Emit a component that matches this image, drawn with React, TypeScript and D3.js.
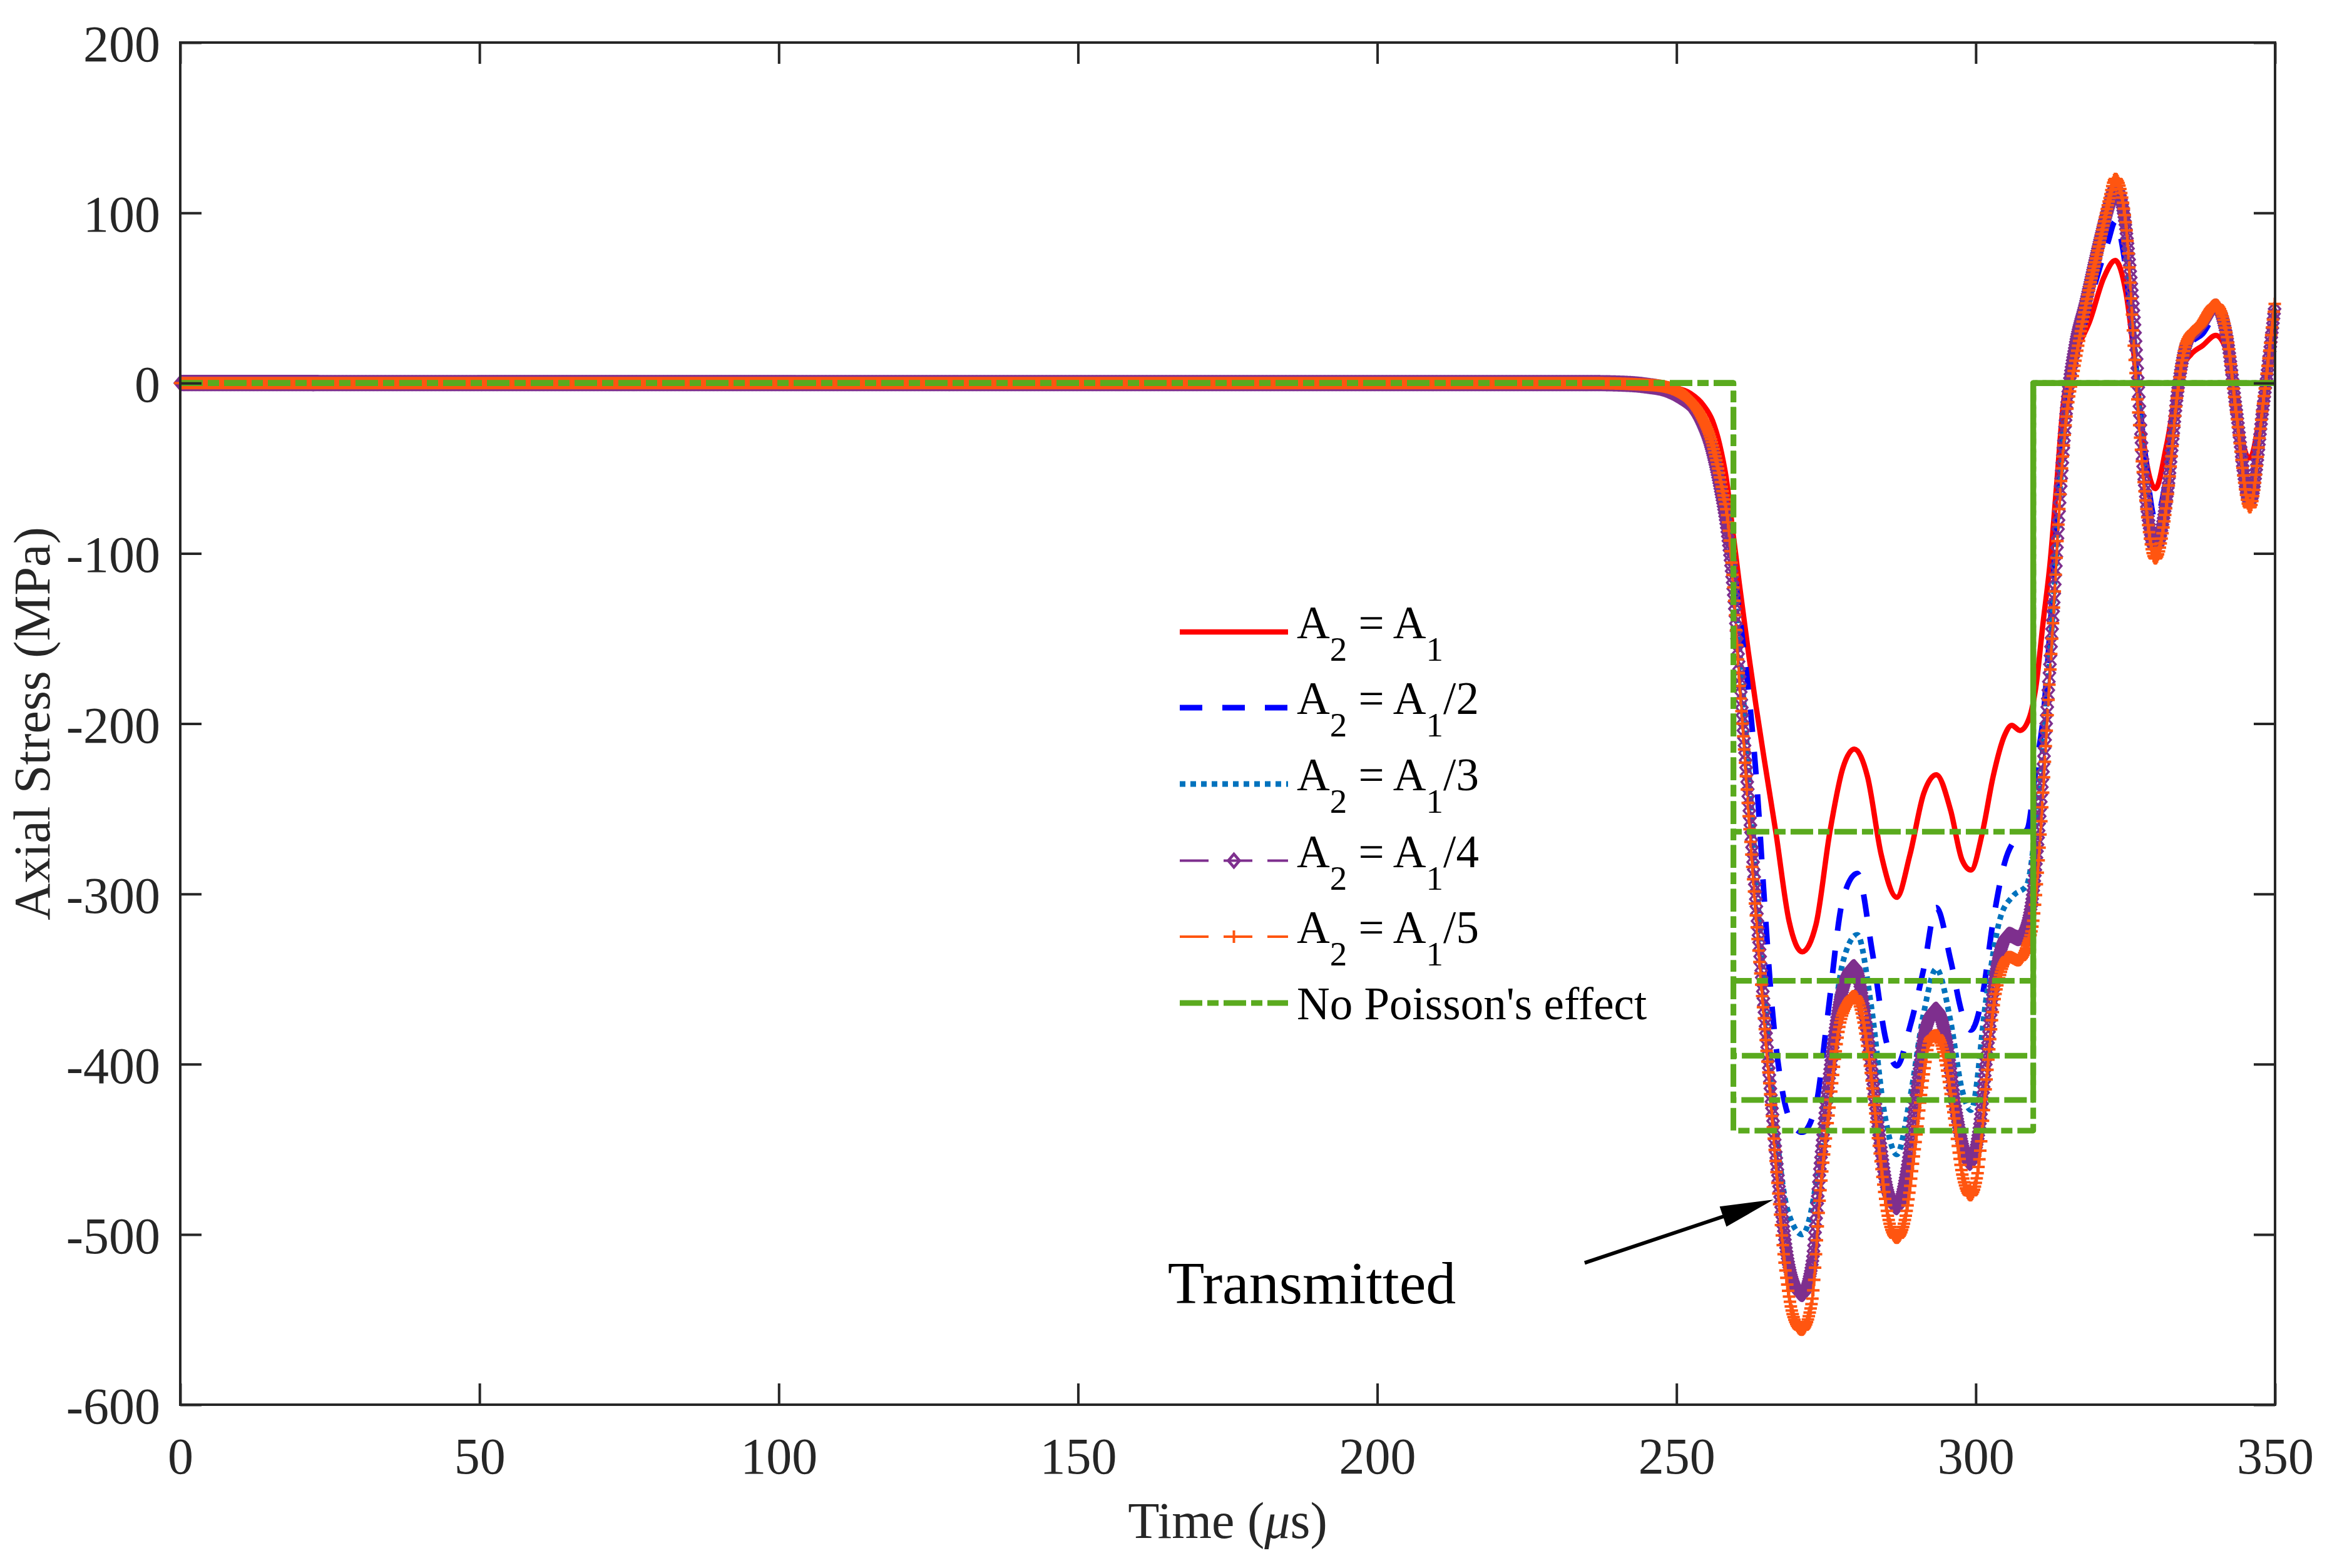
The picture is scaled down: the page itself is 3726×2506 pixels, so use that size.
import React, { useEffect, useRef } from 'react';
import * as d3 from 'd3';

// ---------- data ----------
const X_TICKS = [0, 50, 100, 150, 200, 250, 300, 350];
const Y_TICKS = [200, 100, 0, -100, -200, -300, -400, -500, -600];

// A2 = A1 (red, solid)
const seriesRatio1: [number, number][] = [
  [0, 0], [236, 0], [242, -0.3], [246, -1], [249.3, -2.5], [252.3, -6], [254.5, -13], [256, -22],
  [257.2, -36], [258.4, -58], [259.3, -84], [260.5, -118], [262, -158], [263.3, -190], [264.7, -222],
  [266.6, -264], [268.8, -316], [271, -334], [273.3, -318], [275.6, -264], [277.8, -226], [279.7, -215],
  [281.9, -231], [284.2, -277], [286.8, -302], [289, -277], [291.3, -241], [293.4, -230], [295.8, -251],
  [297.7, -280], [299.2, -286], [301.1, -264], [302.9, -231], [304.8, -207], [306, -201], [307.4, -204],
  [308.9, -197], [310.1, -177], [311.2, -142], [312.4, -106], [313.5, -60], [314.6, -13], [315.8, 10],
  [316.9, 20], [319, 36], [321.4, 62], [323.3, 72], [325.1, 53], [327, -1], [328.5, -46], [330, -62],
  [331.9, -36], [334.1, 6], [336, 17], [337.9, 22], [340.1, 28], [342, 18], [343.9, -24], [345.8, -44],
  [347.6, -17], [350, 32],
];

// A2 = A1/2 (blue, dashed)
const seriesRatio2: [number, number][] = [
  [0, 0], [236, 0], [242, -0.5], [245, -1.5], [248, -3.5], [250.5, -7], [252.5, -12], [254.3, -21],
  [255.8, -35], [257.2, -55], [258.5, -82], [259.8, -115], [261, -150], [262, -180], [263.5, -240],
  [264.6, -300], [266, -368], [267.5, -412], [269, -433], [271, -440], [273.3, -424], [275.2, -373],
  [277.8, -303], [280.2, -288], [282.7, -334], [285, -386], [286.8, -401], [289, -378], [291.3, -344],
  [293.4, -308], [295.8, -339], [297.7, -370], [299.2, -380], [301.1, -360], [302.9, -316], [304.8, -282],
  [307.1, -266], [308.6, -262], [310.1, -225], [311.3, -195], [312.3, -150], [313.5, -85], [314.6, -27],
  [316.1, 6], [317.6, 27], [319.9, 58], [322.1, 83], [323.3, 95], [324.7, 76], [326.2, 30], [328.1, -36],
  [330, -80], [331.9, -54], [333.8, -1], [335.6, 22], [337.9, 29], [340.1, 39], [342, 22], [343.9, -24],
  [345.8, -58], [347.6, -24], [350, 39],
];

// A2 = A1/3 (teal-blue, dotted)
const seriesRatio3: [number, number][] = [
  [0, 0], [236, 0], [242, -0.5], [245, -1.5], [248, -3.5], [250.5, -7.5], [252.5, -13], [254.3, -22],
  [255.8, -37], [257.2, -58], [258.5, -85], [259.6, -118], [260.6, -160], [261.6, -205], [262.8, -265],
  [264, -325], [265.5, -395], [267, -450], [268.5, -485], [271, -500], [273.3, -470], [275.5, -400],
  [277.8, -340], [280.2, -324], [282.5, -365], [284.8, -430], [286.8, -453], [289, -420], [291.3, -370],
  [293.4, -344], [295.8, -375], [297.7, -415], [299.2, -427], [301.8, -360], [304.1, -314], [306.3, -301],
  [308.5, -295], [310.1, -257], [311.2, -215], [312.2, -170], [313.3, -110], [314.5, -40], [316, 5],
  [317.5, 35], [319.9, 70], [322.1, 98], [323.3, 108], [324.7, 88], [326.4, 28], [328.1, -50], [330, -92],
  [331.9, -62], [333.8, -2], [335.5, 24], [337.9, 33], [340.1, 43], [342, 24], [343.9, -24], [345.8, -66],
  [347.6, -26], [350, 44],
];

// A2 = A1/4 (purple, dashed + diamonds)
const seriesRatio4: [number, number][] = [
  [0, 0], [236, 0], [242, -0.5], [245, -1.5], [248, -3.5], [250.3, -7.5], [252.3, -13], [254.2, -23],
  [255.8, -38], [257.2, -60], [258.5, -88], [259.5, -122], [260.4, -165], [261.3, -210], [262.4, -262],
  [263.5, -315], [264.7, -370], [266, -428], [267.3, -478], [268.6, -515], [270, -532], [271, -535],
  [272.6, -518], [274, -460], [275.6, -405], [277.5, -360], [279.7, -343], [281.8, -380], [283.8, -440],
  [285.3, -475], [286.8, -484], [288.5, -462], [290, -420], [291.6, -380], [293.4, -368], [295, -385],
  [296.8, -430], [299, -458], [300.5, -440], [301.8, -396], [303, -355], [304.1, -334], [305.6, -324],
  [307.1, -326], [308.5, -319], [309.7, -295], [310.9, -244], [312, -187], [313, -130], [314.2, -60],
  [315.3, -10], [316.6, 22], [318.4, 48], [320.6, 82], [322.3, 105], [323.3, 115], [324.7, 100],
  [326.4, 40], [328.1, -55], [330, -97], [331.9, -67], [333.8, -3], [335.3, 24], [337.5, 33], [340.1, 45],
  [342, 26], [343.5, -15], [345.8, -70], [348, -14], [350, 46],
];

// A2 = A1/5 (orange, dashed + plus)
const seriesRatio5: [number, number][] = [
  [0, 0], [236, 0], [242, -0.5], [245, -1], [247, -1.5], [250, -4.5], [252.3, -10.5], [254.2, -20],
  [256, -36], [257.5, -60], [258.7, -85], [259.5, -120], [260.3, -165], [261.2, -210], [262.2, -262],
  [263.3, -315], [264.3, -360], [265.8, -424], [267, -476], [268, -515], [269.5, -548], [270.9, -556],
  [272.6, -540], [274, -476], [275.6, -424], [277.1, -380], [278.6, -364], [279.7, -360], [280.8, -368],
  [282.3, -401], [283.8, -448], [285.3, -489], [286.8, -502], [288.3, -489], [289.8, -450], [291.3, -406],
  [292.4, -385], [293.4, -383], [294.6, -393], [296.2, -427], [297.7, -464], [299.1, -477], [300.3, -464],
  [301.8, -409], [302.9, -368], [304.1, -347], [305.6, -337], [307.1, -339], [308.5, -331], [309.7, -313],
  [310.9, -260], [312, -195], [313, -135], [314.2, -60], [315.2, -18], [316.1, 2], [317, 20], [318.4, 46],
  [320.6, 81], [322.3, 108], [323.3, 120], [325.1, 93], [326.6, 11], [328.1, -60], [330, -103],
  [331.9, -71], [333.8, -3], [335.3, 25], [337.5, 34], [340.1, 46], [342, 27], [343.5, -17], [345.8, -73],
  [348, -12], [350, 48],
];

// No Poisson's effect: rectangular pulses
const NOPOISSON_LEVELS = [-263.5, -351, -395, -421, -439];
const PULSE_START = 259.5;
const PULSE_END = 309.6;
const T_END = 350;

const LEGEND_SUFFIX = ['', '/2', '/3', '/4', '/5'];
const LEGEND_GREEN = "No Poisson's effect";
const ANNOT_TEXT = 'Transmitted';

// ---------- styling ----------
const FONT = "'Liberation Serif', 'Times New Roman', Times, serif";
const AX = '#262626';
const C_RED = '#FF0000';
const C_BLUE = '#0000FF';
const C_DOT = '#0072BD';
const C_PURPLE = '#7E2F8E';
const C_ORANGE = '#FF5510';
const C_GREEN = '#5AAA1E';

export default function App() {
  const ref = useRef<SVGSVGElement>(null);

  useEffect(() => {
    const svg = d3.select(ref.current);
    svg.selectAll('*').remove();

    const L = 288, R = 3635, T = 68, B = 2245;
    const x = d3.scaleLinear().domain([0, 350]).range([L, R]);
    const y = d3.scaleLinear().domain([-600, 200]).range([B, T]);

    svg.append('rect').attr('width', 3726).attr('height', 2506).attr('fill', '#fff');

    const smooth = d3.line<[number, number]>().x(d => x(d[0])).y(d => y(d[1])).curve(d3.curveMonotoneX);
    const straight = d3.line<[number, number]>().x(d => x(d[0])).y(d => y(d[1])).curve(d3.curveLinear);

    const gLines = svg.append('g');

    const addLine = (data: [number, number][], color: string, width: number, dash: string | null) => {
      const p = gLines.append('path')
        .attr('d', smooth(data) as string)
        .attr('fill', 'none')
        .attr('stroke', color)
        .attr('stroke-width', width)
        .attr('stroke-linejoin', 'round')
        .attr('stroke-linecap', 'butt');
      if (dash) p.attr('stroke-dasharray', dash);
      return p;
    };

    // marker positions at constant time step along the drawn curve
    const markerPositions = (node: SVGPathElement, dxStep: number) => {
      const total = node.getTotalLength();
      const pts: { x: number; y: number }[] = [];
      let prev = node.getPointAtLength(0);
      pts.push({ x: prev.x, y: prev.y });
      let nextX = prev.x + dxStep;
      for (let s = 1.2; s <= total + 1.2; s += 1.2) {
        const p = node.getPointAtLength(Math.min(s, total));
        while (p.x >= nextX && p.x > prev.x) {
          const f = (nextX - prev.x) / (p.x - prev.x);
          pts.push({ x: nextX, y: prev.y + f * (p.y - prev.y) });
          nextX += dxStep;
        }
        prev = p;
      }
      return pts;
    };

    const diamond = (cx: number, cy: number) => `M${cx},${cy - 10.5}L${cx + 9},${cy}L${cx},${cy + 10.5}L${cx - 9},${cy}Z`;
    const plus = (cx: number, cy: number) => `M${cx - 10},${cy}H${cx + 10}M${cx},${cy - 10}V${cy + 10}`;

    addLine(seriesRatio1, C_RED, 8.5, null);
    addLine(seriesRatio2, C_BLUE, 9, '36 32');
    addLine(seriesRatio3, C_DOT, 9, '8 7');

    const pPurple = addLine(seriesRatio4, C_PURPLE, 4, '46 24');
    const purplePts = markerPositions(pPurple.node() as SVGPathElement, x(0.09) - x(0));
    gLines.append('path')
      .attr('d', purplePts.map(p => diamond(p.x, p.y)).join(''))
      .attr('fill', 'none').attr('stroke', C_PURPLE).attr('stroke-width', 3.5);

    const pOrange = addLine(seriesRatio5, C_ORANGE, 4, '46 24');
    const orangePts = markerPositions(pOrange.node() as SVGPathElement, x(0.15) - x(0));
    gLines.append('path')
      .attr('d', orangePts.map(p => plus(p.x, p.y)).join(''))
      .attr('fill', 'none').attr('stroke', C_ORANGE).attr('stroke-width', 4);

    NOPOISSON_LEVELS.forEach(level => {
      const data: [number, number][] = [
        [0, 0], [PULSE_START, 0], [PULSE_START, level], [PULSE_END, level], [PULSE_END, 0], [T_END, 0],
      ];
      gLines.append('path')
        .attr('d', straight(data) as string)
        .attr('fill', 'none')
        .attr('stroke', C_GREEN)
        .attr('stroke-width', 9)
        .attr('stroke-linejoin', 'round')
        .attr('stroke-dasharray', '36 8 18 8');
    });

    // ---------- axes ----------
    const styleAxis = (g: d3.Selection<SVGGElement, unknown, null, undefined>) => {
      g.select('.domain').remove();
      g.selectAll('line').attr('stroke', AX).attr('stroke-width', 4);
      g.selectAll('text').attr('font-family', FONT).attr('font-size', 82).attr('fill', AX);
    };
    const gx = svg.append('g').attr('transform', `translate(0,${B})`)
      .call(d3.axisBottom(x).tickValues(X_TICKS).tickSize(-34).tickPadding(52).tickFormat(d => String(d)));
    styleAxis(gx);
    const gxt = svg.append('g').attr('transform', `translate(0,${T})`)
      .call(d3.axisTop(x).tickValues(X_TICKS).tickSize(-34).tickFormat(() => ''));
    styleAxis(gxt);
    const gy = svg.append('g').attr('transform', `translate(${L},0)`)
      .call(d3.axisLeft(y).tickValues(Y_TICKS).tickSize(-34).tickPadding(32).tickFormat(d => String(d)));
    styleAxis(gy);
    gy.selectAll('text').attr('dy', '0.36em');
    const gyr = svg.append('g').attr('transform', `translate(${R},0)`)
      .call(d3.axisRight(y).tickValues(Y_TICKS).tickSize(-34).tickFormat(() => ''));
    styleAxis(gyr);

    svg.append('rect').attr('x', L).attr('y', T).attr('width', R - L).attr('height', B - T)
      .attr('fill', 'none').attr('stroke', AX).attr('stroke-width', 4);

    // axis labels
    const xl = svg.append('text').attr('x', (L + R) / 2).attr('y', 2458).attr('text-anchor', 'middle')
      .attr('font-family', FONT).attr('font-size', 82).attr('fill', AX).style('white-space', 'pre');
    xl.append('tspan').text('Time (');
    xl.append('tspan').attr('font-style', 'italic').text('\u03BC');
    xl.append('tspan').text('s)');

    svg.append('text').attr('transform', `translate(79,${(T + B) / 2}) rotate(-90)`)
      .attr('text-anchor', 'middle').attr('font-family', FONT).attr('font-size', 82).attr('fill', AX)
      .text('Axial Stress (MPa)');

    // ---------- legend ----------
    const lg = svg.append('g');
    const lx0 = 1885, lx1 = 2058, tx = 2072;
    const rowsY = [1010, 1131, 1253, 1375.5, 1497, 1603];
    const styles: { color: string; width: number; dash: string | null; marker: string | null }[] = [
      { color: C_RED, width: 8.5, dash: null, marker: null },
      { color: C_BLUE, width: 9, dash: '36 32', marker: null },
      { color: C_DOT, width: 9, dash: '9 8', marker: null },
      { color: C_PURPLE, width: 4, dash: '46 24', marker: 'diamond' },
      { color: C_ORANGE, width: 4, dash: '46 24', marker: 'plus' },
      { color: C_GREEN, width: 9, dash: '36 8 18 8', marker: null },
    ];
    styles.forEach((s, i) => {
      const yy = rowsY[i];
      const ln = lg.append('line').attr('x1', lx0).attr('x2', lx1).attr('y1', yy).attr('y2', yy)
        .attr('stroke', s.color).attr('stroke-width', s.width);
      if (s.dash) ln.attr('stroke-dasharray', s.dash);
      const mx = (lx0 + lx1) / 2;
      if (s.marker === 'diamond') {
        lg.append('path').attr('d', diamond(mx, yy)).attr('fill', 'none').attr('stroke', s.color).attr('stroke-width', 4.5);
      } else if (s.marker === 'plus') {
        lg.append('path').attr('d', plus(mx, yy)).attr('fill', 'none').attr('stroke', s.color).attr('stroke-width', 4);
      }
      if (i < 5) {
        const t = lg.append('text').attr('x', tx).attr('y', yy + 10).attr('font-family', FONT)
          .attr('font-size', 73).attr('fill', '#000').style('white-space', 'pre');
        t.append('tspan').text('A');
        t.append('tspan').attr('font-size', 55).attr('dy', 36).text('2');
        t.append('tspan').attr('dy', -36).text(' = A');
        t.append('tspan').attr('font-size', 55).attr('dy', 36).text('1');
        t.append('tspan').attr('dy', -36).text(LEGEND_SUFFIX[i]);
      } else {
        lg.append('text').attr('x', tx).attr('y', yy + 26).attr('font-family', FONT)
          .attr('font-size', 73).attr('fill', '#000').text(LEGEND_GREEN);
      }
    });

    // ---------- annotation ----------
    svg.append('text').attr('x', x(165)).attr('y', y(-540.6)).attr('font-family', FONT)
      .attr('font-size', 96).attr('fill', '#000').text(ANNOT_TEXT);
    const ax0 = x(234.65), ay0 = y(-516.7), ax1 = x(266.2), ay1 = y(-479.6);
    const len = Math.hypot(ax1 - ax0, ay1 - ay0);
    const ux = (ax1 - ax0) / len, uy = (ay1 - ay0) / len;
    const headL = 85, headW = 17;
    const bx = ax1 - ux * headL, by = ay1 - uy * headL;
    svg.append('line').attr('x1', ax0).attr('y1', ay0).attr('x2', bx + ux * 5).attr('y2', by + uy * 5)
      .attr('stroke', '#000').attr('stroke-width', 6);
    svg.append('path')
      .attr('d', `M${ax1},${ay1}L${bx - uy * headW},${by + ux * headW}L${bx + uy * headW},${by - ux * headW}Z`)
      .attr('fill', '#000');
  }, []);

  return (
    <svg
      ref={ref}
      width={3726}
      height={2506}
      style={{ position: 'absolute', left: 0, top: 0, display: 'block' }}
    />
  );
}
